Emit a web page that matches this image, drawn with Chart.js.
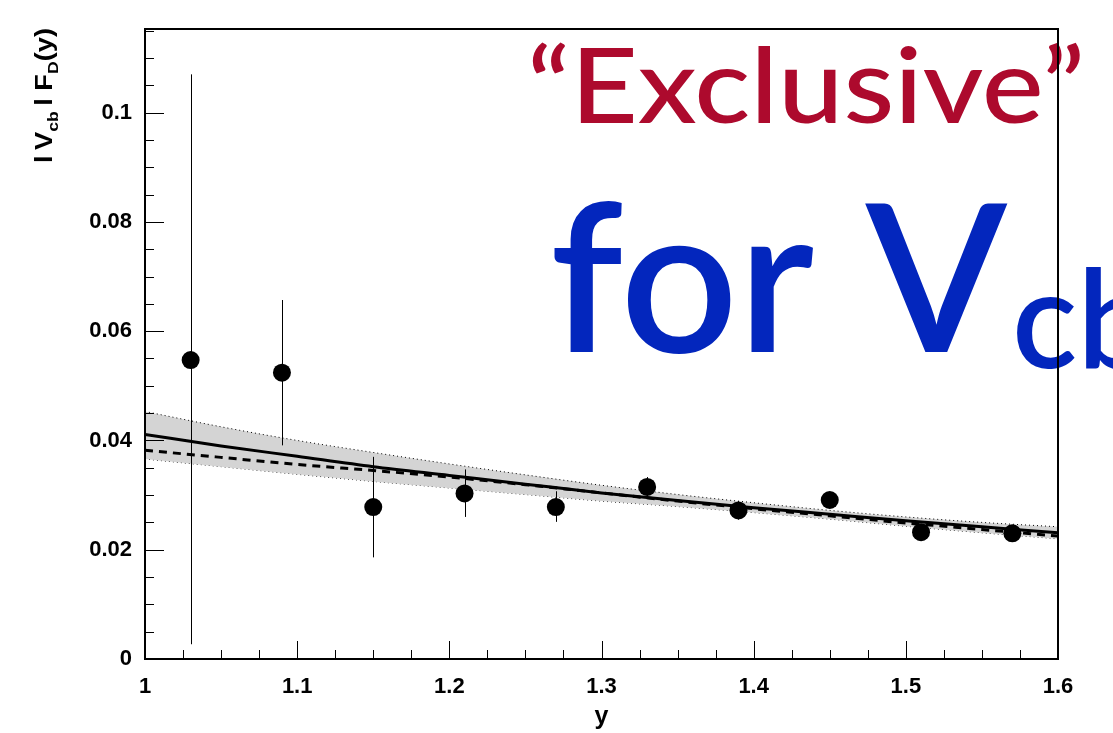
<!DOCTYPE html>
<html><head><meta charset="utf-8">
<script src="https://cdn.jsdelivr.net/npm/chart.js@4/dist/chart.umd.min.js"></script>
<style>
html,body{margin:0;padding:0;background:#fff;overflow:hidden}
#wrap{position:relative;width:1113px;height:733px}
</style></head>
<body><div id="wrap"><canvas id="c" width="1113" height="733"></canvas></div>
<script>
// ---- data ----
const pointX   = [1.03, 1.09, 1.15, 1.21, 1.27, 1.33, 1.39, 1.45, 1.51, 1.57];
const pointY   = [0.0547, 0.0524, 0.0278, 0.0303, 0.0278, 0.0315, 0.0272, 0.0291, 0.0232, 0.0230];
const errLow   = [0.0027, 0.0391, 0.0186, 0.0260, 0.0251, 0.0298, 0.0255, 0.0280, 0.0223, 0.0221];
const errHigh  = [0.1070, 0.0657, 0.0370, 0.0347, 0.0307, 0.0333, 0.0289, 0.0302, 0.0241, 0.0239];

const curveX     = [1.00, 1.05, 1.10, 1.15, 1.20, 1.25, 1.30, 1.35, 1.40, 1.45, 1.50, 1.55, 1.60];
const fitSolid   = [0.0411, 0.0390, 0.0371, 0.0352, 0.0336, 0.0320, 0.0304, 0.0290, 0.0277, 0.0265, 0.0253, 0.0242, 0.0231];
const fitDashed  = [0.0382, 0.0369, 0.0356, 0.0345, 0.0333, 0.0319, 0.0304, 0.0289, 0.0275, 0.0262, 0.0249, 0.0237, 0.0225];
const bandUpper  = [0.0453, 0.0425, 0.0400, 0.0378, 0.0357, 0.0337, 0.0318, 0.0301, 0.0286, 0.0272, 0.0260, 0.0250, 0.0242];
const bandLower  = [0.0366, 0.0352, 0.0338, 0.0325, 0.0313, 0.0301, 0.0289, 0.0279, 0.0268, 0.0256, 0.0243, 0.0231, 0.0220];

const xTicks      = [1, 1.1, 1.2, 1.3, 1.4, 1.5, 1.6];
const xTickLabels = ['1', '1.1', '1.2', '1.3', '1.4', '1.5', '1.6'];
const yTicks      = [0, 0.02, 0.04, 0.06, 0.08, 0.1];
const yTickLabels = ['0', '0.02', '0.04', '0.06', '0.08', '0.1'];

const xTitle = 'y';
const yTitleParts = [['l', 0], ['\u2009V', 0], ['cb', 1], ['\u2009l', 0], [' F', 0], ['D', 1], ['(y)', 0]];
const headline1 = '\u201CExclusive\u201D';
const headline2 = 'for V';
const headline2Sub = 'cb';

const pts = (xs, ys) => xs.map((x, i) => ({x: x, y: ys[i]}));

const tickFont = {family: '"Liberation Sans", Arial, Helvetica, sans-serif', weight: 'bold', size: 22};

// background text (drawn beneath the frame)
const headlinePlugin = {
  id: 'headline',
  beforeDraw(chart) {
    const ctx = chart.ctx;
    ctx.save();
    ctx.textBaseline = 'alphabetic';
    ctx.textAlign = 'left';
    // red headline
    ctx.font = '500 104px Lato, "Open Sans", sans-serif';
    let w = ctx.measureText(headline1).width;
    let sx = 558 / w;
    ctx.save();
    ctx.translate(527, 123); ctx.scale(sx, 1);
    ctx.fillStyle = '#ad0a2d';
    ctx.fillText(headline1, 0, 0);
    ctx.restore();
    // blue headline
    ctx.font = '600 206px Lato, "Open Sans", sans-serif';
    w = ctx.measureText(headline2).width;
    sx = 457 / w;
    ctx.save();
    ctx.translate(550, 352); ctx.scale(sx, 1);
    ctx.fillStyle = '#0326bd';
    ctx.fillText(headline2, 0, 0);
    ctx.restore();
    ctx.font = '600 136px Lato, "Open Sans", sans-serif';
    ctx.save();
    ctx.translate(1012, 368); ctx.scale(sx, 1);
    ctx.fillStyle = '#0326bd';
    ctx.fillText(headline2Sub, 0, 0);
    ctx.restore();

    // y-axis title with subscripts
    const mainF = 'bold 23px "Liberation Sans", Arial, sans-serif';
    const subF  = 'bold 15px "Liberation Sans", Arial, sans-serif';
    let total = 0;
    yTitleParts.forEach(([t, s]) => { ctx.font = s ? subF : mainF; total += ctx.measureText(t).width; });
    const k = 135 / total;
    ctx.save();
    ctx.translate(52, 163);
    ctx.rotate(-Math.PI / 2);
    ctx.scale(k, 1);
    ctx.fillStyle = '#000';
    let px = 0;
    yTitleParts.forEach(([t, s]) => {
      ctx.font = s ? subF : mainF;
      ctx.fillText(t, px, s ? 6 : 0);
      px += ctx.measureText(t).width;
    });
    ctx.restore();
    ctx.restore();
  }
};

// error bars through the library scales
const errorBarPlugin = {
  id: 'errorBars',
  afterDatasetsDraw(chart) {
    const ctx = chart.ctx, xs = chart.scales.x, ys = chart.scales.y;
    ctx.save();
    ctx.strokeStyle = '#000';
    ctx.lineWidth = 1;
    pointX.forEach((x, i) => {
      const px = Math.round(xs.getPixelForValue(x)) + 0.5;
      ctx.beginPath();
      ctx.moveTo(px, ys.getPixelForValue(errLow[i]));
      ctx.lineTo(px, ys.getPixelForValue(errHigh[i]));
      ctx.stroke();
    });
    ctx.restore();
  }
};

// ROOT-style frame with inward ticks
const framePlugin = {
  id: 'frame',
  afterDraw(chart) {
    const ctx = chart.ctx, a = chart.chartArea, xs = chart.scales.x, ys = chart.scales.y;
    ctx.save();
    ctx.strokeStyle = '#000';
    ctx.lineWidth = 1;
    for (let n = 0; n <= 23; n++) {
      const v = n * 0.005;
      if (v > ys.max) break;
      const py = Math.round(ys.getPixelForValue(v)) + 0.5;
      const len = (n % 4 === 0) ? 19 : 9;
      ctx.beginPath(); ctx.moveTo(a.left, py); ctx.lineTo(a.left + len, py); ctx.stroke();
    }
    for (let n = 0; n <= 24; n++) {
      const v = 1 + n * 0.025;
      const px = Math.round(xs.getPixelForValue(v)) + 0.5;
      const len = (n % 4 === 0) ? 18 : 9;
      ctx.beginPath(); ctx.moveTo(px, a.bottom); ctx.lineTo(px, a.bottom - len); ctx.stroke();
    }
    ctx.lineWidth = 2;
    ctx.strokeRect(a.left, a.top, a.right - a.left, a.bottom - a.top);
    ctx.restore();
  }
};

new Chart(document.getElementById('c'), {
  type: 'scatter',
  data: {
    datasets: [
      {label: 'data', data: pts(pointX, pointY), backgroundColor: '#000', borderWidth: 0,
       pointRadius: 9, pointHoverRadius: 9, showLine: false},
      {type: 'line', label: 'fit', data: pts(curveX, fitSolid), borderColor: '#000', borderWidth: 3,
       pointRadius: 0, fill: false, cubicInterpolationMode: 'monotone'},
      {type: 'line', label: 'fit2', data: pts(curveX, fitDashed), borderColor: '#000', borderWidth: 3,
       borderDash: [8, 6], pointRadius: 0, fill: false, cubicInterpolationMode: 'monotone'},
      {type: 'line', label: 'band+', data: pts(curveX, bandUpper), borderColor: '#000', borderWidth: 1,
       borderDash: [1, 3], pointRadius: 0, fill: '+1', backgroundColor: '#d4d4d4', cubicInterpolationMode: 'monotone'},
      {type: 'line', label: 'band-', data: pts(curveX, bandLower), borderColor: '#000', borderWidth: 1,
       borderDash: [1, 3], pointRadius: 0, fill: false, cubicInterpolationMode: 'monotone'}
    ]
  },
  options: {
    responsive: false,
    animation: false,
    events: [],
    layout: {padding: {left: 0, top: 29, right: 55, bottom: 0}},
    plugins: {legend: {display: false}, tooltip: {enabled: false}},
    scales: {
      x: {
        type: 'linear', min: 1, max: 1.6,
        grid: {display: false}, border: {display: false},
        afterBuildTicks: s => { s.ticks = xTicks.map(v => ({value: v})); },
        afterFit: s => { s.height = 74; },
        ticks: {font: tickFont, color: '#000', padding: 7, maxRotation: 0, autoSkip: false,
                callback: v => xTickLabels[xTicks.indexOf(v)]},
        title: {display: true, text: xTitle, color: '#000', padding: {top: 0, bottom: 1},
                font: {family: '"Liberation Sans", Arial, sans-serif', weight: 'bold', size: 25}}
      },
      y: {
        type: 'linear', min: 0, max: 0.1153,
        grid: {display: false}, border: {display: false},
        afterBuildTicks: s => { s.ticks = yTicks.map(v => ({value: v})); },
        afterFit: s => { s.width = 145; },
        ticks: {font: tickFont, color: '#000', padding: 5, autoSkip: false,
                callback: v => yTickLabels[yTicks.indexOf(v)]}
      }
    }
  },
  plugins: [headlinePlugin, errorBarPlugin, framePlugin]
});
</script>
</body></html>
